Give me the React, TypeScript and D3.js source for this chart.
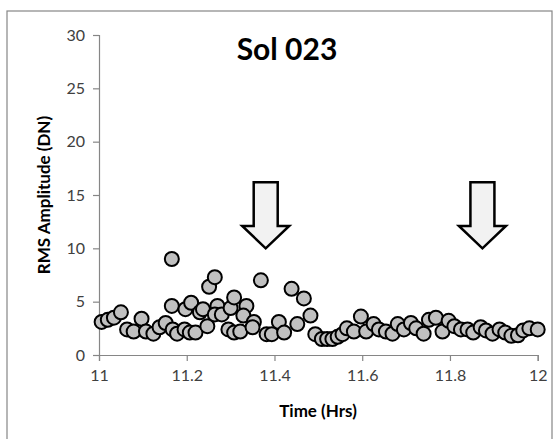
import { useEffect, useRef } from 'react';
import * as d3 from 'd3';

// time (hrs) and RMS amplitude (DN)
const times = [
  11.006, 11.02, 11.034, 11.05, 11.064, 11.079, 11.097, 11.107, 11.124, 11.138,
  11.152, 11.166, 11.166, 11.168, 11.178, 11.195, 11.197, 11.21, 11.207, 11.22,
  11.23, 11.237, 11.247, 11.251, 11.264, 11.27, 11.264, 11.28, 11.295, 11.3,
  11.308, 11.308, 11.322, 11.336, 11.329, 11.353, 11.35, 11.369, 11.382, 11.394,
  11.41, 11.422, 11.439, 11.452, 11.467, 11.482, 11.493, 11.508, 11.52, 11.532,
  11.544, 11.555, 11.565, 11.581, 11.597, 11.609, 11.626, 11.638, 11.654, 11.669,
  11.681, 11.695, 11.711, 11.723, 11.74, 11.752, 11.768, 11.783, 11.797, 11.81,
  11.825, 11.84, 11.853, 11.87, 11.882, 11.897, 11.913, 11.926, 11.94, 11.955,
  11.967, 11.981, 12.0
];
const amplitudes = [
  3.1, 3.3, 3.5, 4.0, 2.4, 2.2, 3.4, 2.2, 2.0, 2.6,
  3.0, 9.0, 4.6, 2.4, 2.0, 2.4, 4.3, 4.9, 2.1, 2.1,
  4.0, 4.3, 2.7, 6.4, 7.3, 4.6, 3.8, 3.8, 2.4, 4.4,
  5.4, 2.1, 2.2, 4.6, 3.7, 3.1, 2.6, 7.0, 1.95, 1.95,
  3.1, 2.1, 6.2, 2.9, 5.3, 3.7, 1.95, 1.5, 1.5, 1.5,
  1.7, 1.95, 2.5, 2.2, 3.6, 2.2, 2.9, 2.4, 2.2, 2.0,
  2.9, 2.4, 3.0, 2.5, 2.0, 3.3, 3.5, 2.2, 3.2, 2.7,
  2.4, 2.4, 2.1, 2.6, 2.3, 2.0, 2.4, 2.1, 1.8, 1.85,
  2.3, 2.5, 2.4
];

const xTicks = [11, 11.2, 11.4, 11.6, 11.8, 12];
const yTicks = [0, 5, 10, 15, 20, 25, 30];

// arrow annotations (tip positions in data units)
const arrowTimes = [11.38, 11.874];
const arrowTop = 16.2;
const arrowHead = 12.1;
const arrowTip = 10;

const title = 'Sol 023';
const xTitle = 'Time (Hrs)';
const yTitle = 'RMS Amplitude (DN)';

export default function App() {
  const svgRef = useRef<SVGSVGElement>(null);

  useEffect(() => {
    const svg = d3.select(svgRef.current);
    svg.selectAll('*').remove();

    const width = 560;
    const height = 439;
    const font = 'Lato, "Open Sans", sans-serif';

    svg.attr('width', width).attr('height', height);

    svg.append('rect')
      .attr('width', width)
      .attr('height', height)
      .attr('fill', '#fff');

    // chart frame
    svg.append('rect')
      .attr('x', 7)
      .attr('y', 11)
      .attr('width', 545)
      .attr('height', 450)
      .attr('fill', 'none')
      .attr('stroke', '#868686')
      .attr('stroke-width', 1.2);

    const x = d3.scaleLinear().domain([11, 12]).range([99, 537.7]);
    const y = d3.scaleLinear().domain([0, 30]).range([355, 35]);

    const axisColor = '#868686';
    const labelColor = '#404040';

    const yAxis = svg.append('g')
      .attr('transform', 'translate(99,0)')
      .call(d3.axisLeft(y).tickValues(yTicks).tickSize(6).tickPadding(8).tickFormat(d3.format('d')));
    yAxis.select('.domain').attr('stroke', axisColor).attr('stroke-width', 1.2);
    yAxis.selectAll('.tick line').attr('stroke', axisColor).attr('stroke-width', 1.2);
    yAxis.selectAll('.tick text')
      .attr('fill', labelColor)
      .style('font-family', font)
      .style('font-size', '16px');

    const xAxis = svg.append('g')
      .attr('transform', 'translate(0,355)')
      .call(d3.axisBottom(x).tickValues(xTicks).tickSize(6).tickPadding(9).tickFormat(d => String(+d)));
    xAxis.select('.domain').attr('stroke', axisColor).attr('stroke-width', 1.2);
    xAxis.selectAll('.tick line').attr('stroke', axisColor).attr('stroke-width', 1.2);
    xAxis.selectAll('.tick text')
      .attr('fill', labelColor)
      .style('font-family', font)
      .style('font-size', '16px');

    // points
    svg.append('g')
      .selectAll('circle')
      .data(times.map((t, i) => [t, amplitudes[i]]))
      .join('circle')
      .attr('cx', d => x(d[0]))
      .attr('cy', d => y(d[1]))
      .attr('r', 7)
      .attr('fill', '#c0c0c0')
      .attr('stroke', '#000')
      .attr('stroke-width', 2);

    // arrows
    const shaftHalf = 12;
    const headHalf = 23.5;
    arrowTimes.forEach(t => {
      const cx = x(t);
      const pts: [number, number][] = [
        [cx - shaftHalf, y(arrowTop)],
        [cx + shaftHalf, y(arrowTop)],
        [cx + shaftHalf, y(arrowHead)],
        [cx + headHalf, y(arrowHead)],
        [cx, y(arrowTip)],
        [cx - headHalf, y(arrowHead)],
        [cx - shaftHalf, y(arrowHead)]
      ];
      svg.append('path')
        .attr('d', d3.line()(pts) + 'Z')
        .attr('fill', '#f2f2f2')
        .attr('stroke', '#000')
        .attr('stroke-width', 2.5)
        .attr('stroke-linejoin', 'miter');
    });

    svg.append('text')
      .attr('x', 287)
      .attr('y', 60)
      .attr('text-anchor', 'middle')
      .style('font-family', font)
      .style('font-size', '30px')
      .style('font-weight', 'bold')
      .text(title);

    svg.append('text')
      .attr('x', 318)
      .attr('y', 417)
      .attr('text-anchor', 'middle')
      .style('font-family', font)
      .style('font-size', '17px')
      .style('font-weight', 'bold')
      .text(xTitle);

    svg.append('text')
      .attr('transform', 'translate(50,195) rotate(-90)')
      .attr('text-anchor', 'middle')
      .style('font-family', font)
      .style('font-size', '17px')
      .style('font-weight', 'bold')
      .text(yTitle);
  }, []);

  return <svg ref={svgRef} style={{ position: 'absolute', left: 0, top: 0 }}></svg>;
}
